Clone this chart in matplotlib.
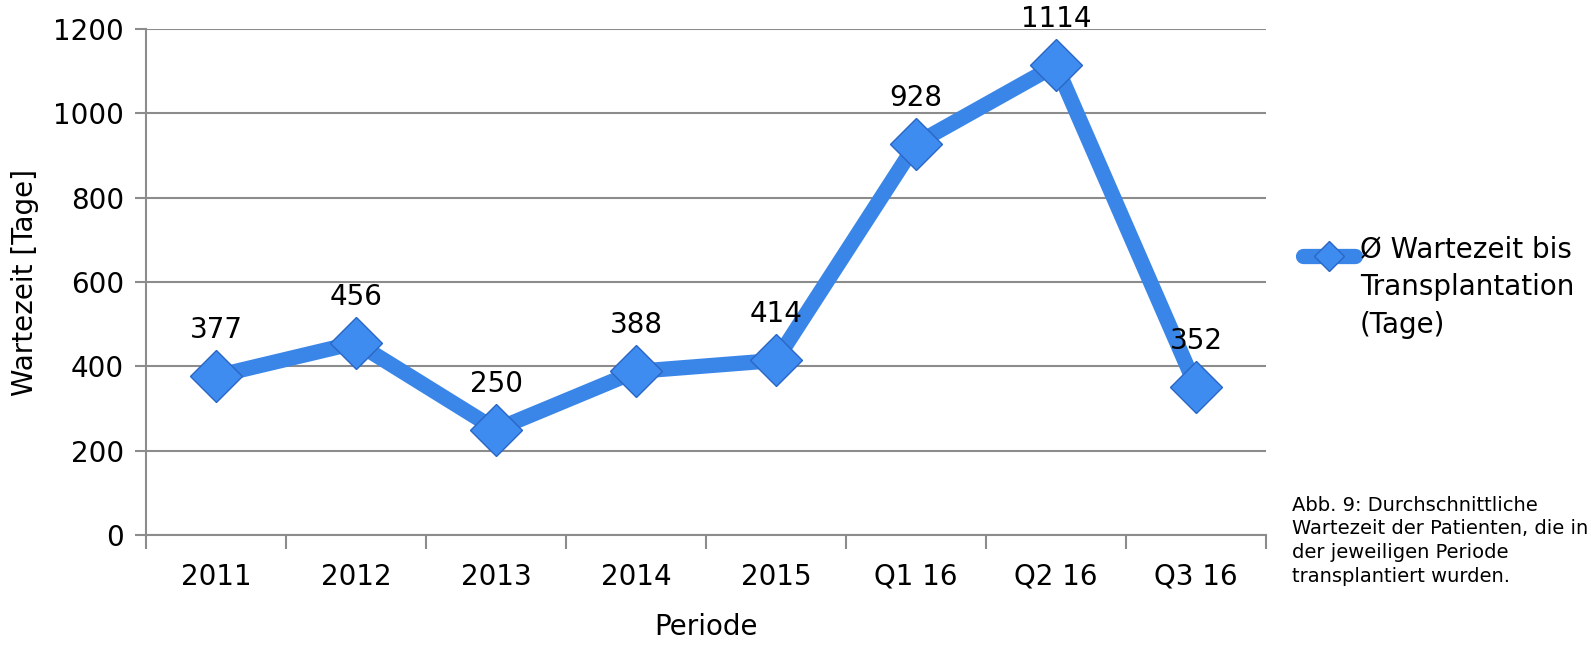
import matplotlib.pyplot as plt
from matplotlib.lines import Line2D
import numpy as np

perioden = ["2011", "2012", "2013", "2014", "2015", "Q1 16", "Q2 16", "Q3 16"]
wartezeit = [377, 456, 250, 388, 414, 928, 1114, 352]
y_ticks = [0, 200, 400, 600, 800, 1000, 1200]

blau = "#3a86e8"
grau = "#8c8c8c"
fs = 20

fig = plt.figure(figsize=(15.91, 6.46), dpi=100)
ax = fig.add_axes([146 / 1591, 1 - 535 / 646, 1120 / 1591, (535 - 29) / 646])

x = np.arange(len(perioden))
ax.plot(x, wartezeit, color=blau, linewidth=11, solid_capstyle="round", zorder=3)
ax.plot(x, wartezeit, linestyle="none", marker="D", markersize=26,
        markerfacecolor="#3f8cf0", markeredgecolor="#2a66c4", markeredgewidth=1, zorder=4)

for xi, v in zip(x, wartezeit):
    ax.annotate(str(v), (xi, v), xytext=(0, 23), textcoords="offset points",
                ha="center", va="bottom", fontsize=fs)

ax.set_xlim(-0.5, len(perioden) - 0.5)
ax.set_ylim(0, 1200)
ax.set_yticks(y_ticks)
ax.set_yticklabels([str(t) for t in y_ticks], fontsize=fs)
ax.set_xticks(x)
ax.set_xticklabels(perioden, fontsize=fs)
ax.tick_params(axis="x", which="major", length=0, pad=20)
ax.set_xticks(np.arange(-0.5, len(perioden), 1), minor=True)
ax.tick_params(axis="x", which="minor", length=10, color=grau, width=1.5)
ax.tick_params(axis="y", length=8, color=grau, width=1.5, pad=8)

ax.grid(axis="y", color=grau, linewidth=1.5)
ax.set_axisbelow(True)
for s in ["top", "right"]:
    ax.spines[s].set_visible(False)
for s in ["left", "bottom"]:
    ax.spines[s].set_color(grau)
    ax.spines[s].set_linewidth(1.5)

ax.set_ylabel("Wartezeit [Tage]", fontsize=fs, labelpad=10)
ax.set_xlabel("Periode", fontsize=fs, labelpad=16)

# Legende von Hand, Symbol auf Höhe der ersten Zeile
ly = 1 - 256 / 646
fig.add_artist(Line2D([1303 / 1591, 1355 / 1591], [ly, ly], transform=fig.transFigure,
                      color=blau, linewidth=11, solid_capstyle="round"))
fig.add_artist(Line2D([1329 / 1591], [ly], transform=fig.transFigure, linestyle="none",
                      marker="D", markersize=15, markerfacecolor="#3f8cf0",
                      markeredgecolor="#2a66c4"))
fig.text(1360 / 1591, 1 - 235 / 646, "Ø Wartezeit bis\nTransplantation\n(Tage)",
         fontsize=fs, va="top", ha="left", linespacing=1.45)

fig.text(1292 / 1591, 1 - 496 / 646,
         "Abb. 9: Durchschnittliche\nWartezeit der Patienten, die in\nder jeweiligen Periode\ntransplantiert wurden.",
         fontsize=14, va="top", ha="left", linespacing=1.3)

fig.savefig("out.png", dpi=100)
